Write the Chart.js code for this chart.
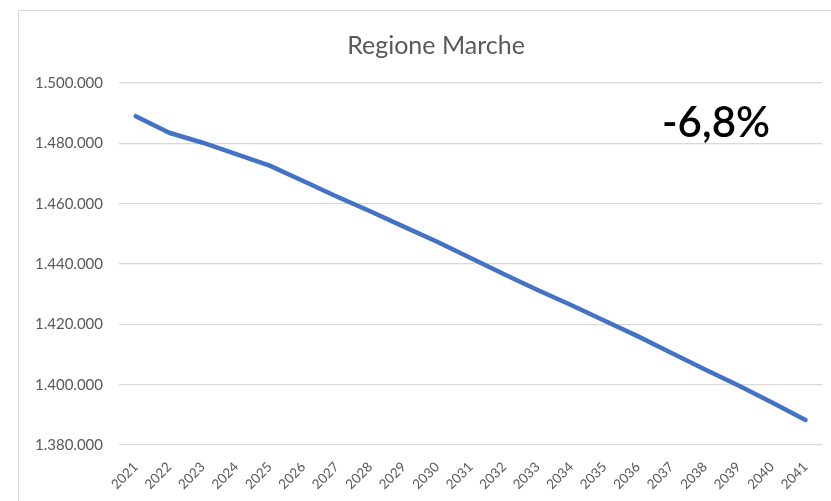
<!DOCTYPE html>
<html>
<head>
<meta charset="utf-8">
<script src="https://cdn.jsdelivr.net/npm/chart.js@4"></script>
<style>
  html, body { margin: 0; padding: 0; background: #fff; }
  #wrap { width: 831px; height: 501px; position: relative; }
</style>
</head>
<body>
<div id="wrap"><canvas id="grafico"></canvas></div>
<script>
// ==================== dati ====================
const anni = ["2021", "2022", "2023", "2024", "2025", "2026", "2027", "2028", "2029", "2030",
  "2031", "2032", "2033", "2034", "2035", "2036", "2037", "2038", "2039", "2040", "2041"];

const popolazione = [1489000, 1483500, 1480200, 1476400, 1472600, 1467500, 1462400, 1457500,
  1452400, 1447400, 1442000, 1436600, 1431400, 1426400, 1421200, 1416000, 1410500, 1405000,
  1399700, 1394100, 1388300];

const yTicks = [1380000, 1400000, 1420000, 1440000, 1460000, 1480000, 1500000];

const titolo = "Regione Marche";
const variazione = "-6,8%";

const FONT = "Lato, 'Liberation Sans', sans-serif";

function formatIt(v) {
  return String(v).replace(/\B(?=(\d{3})+(?!\d))/g, ".");
}

// cornice + titolo + etichetta variazione
const decorazioni = {
  id: "decorazioni",
  beforeDraw(chart) {
    const ctx = chart.ctx;
    ctx.save();
    ctx.fillStyle = "#fff";
    ctx.fillRect(0, 0, chart.width, chart.height);
    ctx.strokeStyle = "#d9d9d9";
    ctx.lineWidth = 1;
    ctx.beginPath();
    ctx.moveTo(18.5, chart.height);
    ctx.lineTo(18.5, 10.5);
    ctx.lineTo(chart.width, 10.5);
    ctx.stroke();
    ctx.restore();
  },
  afterDraw(chart) {
    const ctx = chart.ctx;
    ctx.save();
    ctx.textAlign = "center";
    ctx.textBaseline = "alphabetic";
    ctx.fillStyle = "#595959";
    ctx.font = "25px " + FONT;
    ctx.fillText(titolo, 436, 54);
    ctx.fillStyle = "#000";
    ctx.font = "600 42px " + FONT;
    ctx.fillText(variazione, 716, 137);
    ctx.restore();
  },
};

const config = {
  type: "line",
  data: {
    labels: anni,
    datasets: [
      {
        label: titolo,
        data: popolazione,
        borderColor: "#4472C4",
        backgroundColor: "#4472C4",
        borderWidth: 4.5,
        borderCapStyle: "round",
        borderJoinStyle: "round",
        pointRadius: 0,
        tension: 0,
        fill: false,
      },
    ],
  },
  options: {
    responsive: true,
    maintainAspectRatio: false,
    animation: false,
    layout: { padding: { top: 83, right: 2, left: 0, bottom: 0 } },
    plugins: {
      legend: { display: false },
      title: { display: false },
      tooltip: { enabled: false },
    },
    scales: {
      x: {
        offset: true,
        grid: { display: false, drawTicks: false },
        border: { display: false },
        ticks: {
          autoSkip: false,
          minRotation: 45,
          maxRotation: 45,
          padding: 14,
          color: "#595959",
          font: { family: FONT, size: 13.5 },
        },
        afterFit(scale) { scale.height = 56; },
      },
      y: {
        min: 1380000,
        max: 1500000,
        afterBuildTicks(scale) { scale.ticks = yTicks.map(v => ({ value: v })); },
        grid: { color: "#d9d9d9", lineWidth: 1.3, drawTicks: false },
        border: { display: false },
        ticks: {
          padding: 16,
          color: "#595959",
          font: { family: FONT, size: 15 },
          callback: (v) => formatIt(v),
        },
        afterFit(scale) { scale.width = 119; },
      },
    },
  },
  plugins: [decorazioni],
};

const grafico = new Chart(document.getElementById("grafico"), config);
</script>
</body>
</html>
